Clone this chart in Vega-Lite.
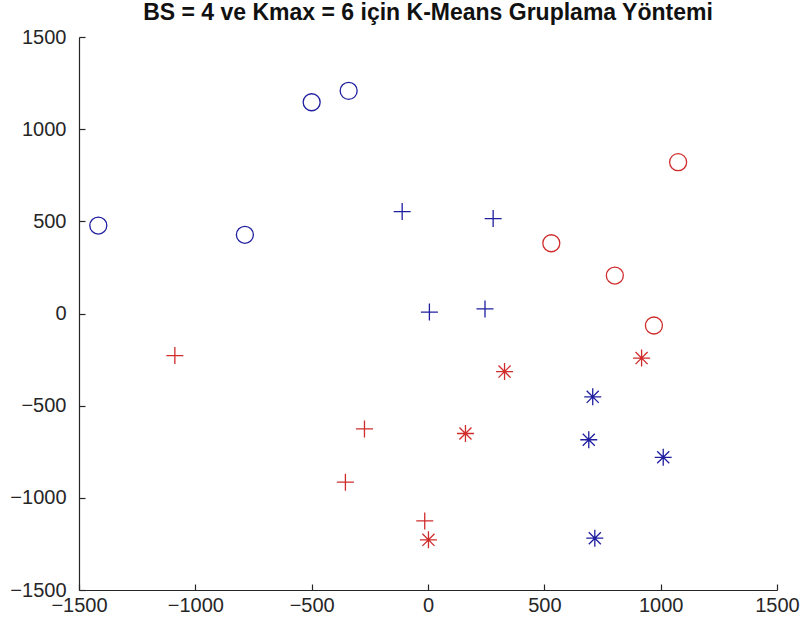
{
  "$schema": "https://vega.github.io/schema/vega-lite/v6.json",
  "autosize": "none",
  "width": 698,
  "height": 553,
  "padding": {"left": 79, "top": 37, "right": 32, "bottom": 47},
  "background": "white",
  "title": {
    "text": "BS = 4 ve Kmax = 6 için K-Means Gruplama Yöntemi",
    "font": "Liberation Sans",
    "fontSize": 23,
    "fontWeight": "bold",
    "color": "#111111",
    "anchor": "middle",
    "frame": "group",
    "baseline": "alphabetic",
    "offset": -16
  },
  "config": {
    "view": {"stroke": null},
    "axis": {
      "grid": false,
      "domainColor": "#262626",
      "domainWidth": 1.2,
      "tickColor": "#262626",
      "tickWidth": 1.2,
      "tickSize": -6,
      "labelFont": "Liberation Sans",
      "labelFontSize": 20,
      "labelColor": "#262626",
      "format": "d",
      "title": null
    }
  },
  "data": {
    "values": [
      {"x": -1417, "y": 477, "renk": "mavi", "isaret": "daire"},
      {"x": -787, "y": 427, "renk": "mavi", "isaret": "daire"},
      {"x": -500, "y": 1146, "renk": "mavi", "isaret": "daire"},
      {"x": -341, "y": 1208, "renk": "mavi", "isaret": "daire"},
      {"x": 530, "y": 381, "renk": "kırmızı", "isaret": "daire"},
      {"x": 803, "y": 206, "renk": "kırmızı", "isaret": "daire"},
      {"x": 1075, "y": 821, "renk": "kırmızı", "isaret": "daire"},
      {"x": 971, "y": -65, "renk": "kırmızı", "isaret": "daire"},
      {"x": -111, "y": 553, "renk": "mavi", "isaret": "artı"},
      {"x": 280, "y": 515, "renk": "mavi", "isaret": "artı"},
      {"x": 6, "y": 8, "renk": "mavi", "isaret": "artı"},
      {"x": 245, "y": 25, "renk": "mavi", "isaret": "artı"},
      {"x": -1088, "y": -228, "renk": "kırmızı", "isaret": "artı"},
      {"x": -273, "y": -626, "renk": "kırmızı", "isaret": "artı"},
      {"x": -355, "y": -915, "renk": "kırmızı", "isaret": "artı"},
      {"x": -14, "y": -1125, "renk": "kırmızı", "isaret": "artı"},
      {"x": 329, "y": -315, "renk": "kırmızı", "isaret": "yıldız"},
      {"x": 161, "y": -651, "renk": "kırmızı", "isaret": "yıldız"},
      {"x": 918, "y": -242, "renk": "kırmızı", "isaret": "yıldız"},
      {"x": 2, "y": -1228, "renk": "kırmızı", "isaret": "yıldız"},
      {"x": 708, "y": -452, "renk": "mavi", "isaret": "yıldız"},
      {"x": 691, "y": -685, "renk": "mavi", "isaret": "yıldız"},
      {"x": 1011, "y": -780, "renk": "mavi", "isaret": "yıldız"},
      {"x": 717, "y": -1219, "renk": "mavi", "isaret": "yıldız"}
    ]
  },
  "mark": {"type": "point", "filled": false, "strokeWidth": 1.3, "size": 289, "opacity": 1},
  "encoding": {
    "x": {
      "field": "x",
      "type": "quantitative",
      "scale": {"domain": [-1500, 1500], "nice": false, "zero": false},
      "axis": {"values": [-1500, -1000, -500, 0, 500, 1000, 1500], "labelPadding": 11, "labelFlush": false}
    },
    "y": {
      "field": "y",
      "type": "quantitative",
      "scale": {"domain": [-1500, 1500], "nice": false, "zero": false},
      "axis": {"values": [-1500, -1000, -500, 0, 500, 1000, 1500], "labelPadding": 19, "labelFlush": false}
    },
    "color": {
      "field": "renk",
      "type": "nominal",
      "scale": {"domain": ["mavi", "kırmızı"], "range": ["#1f1fa0", "#d02c2c"]},
      "legend": null
    },
    "shape": {
      "field": "isaret",
      "type": "nominal",
      "scale": {
        "domain": ["daire", "artı", "yıldız"],
        "range": [
          "circle",
          "M-1,0L1,0M0,-1L0,1",
          "M-1,0L1,0M0,-1L0,1M-0.71,-0.71L0.71,0.71M-0.71,0.71L0.71,-0.71"
        ]
      },
      "legend": null
    }
  }
}
